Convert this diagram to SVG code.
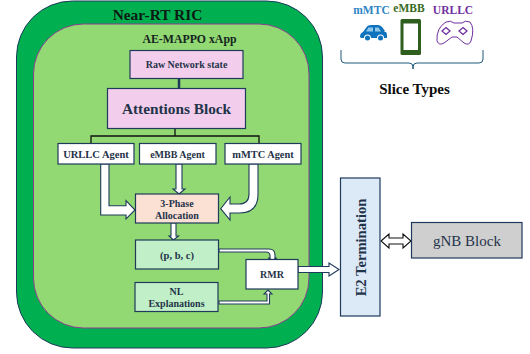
<svg xmlns="http://www.w3.org/2000/svg" width="530" height="354" viewBox="0 0 530 354">
<style>
text{font-family:"Liberation Serif","Times New Roman",serif;font-weight:bold;fill:#1f3349;text-anchor:middle}
.b{stroke:#1f3a5a;stroke-width:1.2}
.w{fill:#fff;stroke:#1f3a5a;stroke-width:1.1;stroke-linejoin:miter}
.k{fill:none;stroke:#111;stroke-width:1.3}
</style>
<rect width="530" height="354" fill="#fff"/>
<g id="ric"><rect x="16.500" y="1" width="306" height="347" rx="56" fill="#00b050" stroke="#1f3a5a" stroke-width="1"/>
<text x="157.500" y="20" font-size="15.400" style="fill:#0c1a14">Near-RT RIC</text></g>
<g id="xapp"><rect x="33.500" y="24" width="275.500" height="304" rx="50" fill="#92d973" stroke="#8a3f8f" stroke-width="1"/>
<text x="189.500" y="43" font-size="11.800" style="fill:#14241c">AE-MAPPO xApp</text></g>
<g id="connectors">
<path d="M179 78V88" stroke="#1f3a5a" stroke-width="2.500" fill="none"/>
<path d="M175 136V129M175 136H91V144M175 136H259V144" class="k"/>
<path class="w" d="M100.700 164H109V205.700H126V200.700L135 210L126 219V215H100.700Z"/>
<path class="w" d="M176 164H182V189H185L179 194L173 189H176Z"/>
<path class="w" d="M249 164H258V194Q258 213 240 213H230V220L220.700 208.700L230 197V204H239Q249 204 249 194Z"/>
<path class="w" d="M171 223H176V236H178.500L173.500 240L169 236H171Z"/>
<path class="w" d="M219 249H269Q275 249 275 255V258H277L272.500 260L268 258H270V256Q270 252 266 252H219Z"/>
<path class="w" d="M219 301H267V294H264L268 290L272 294H269.500V304H219Z"/>
<path class="w" d="M298 266.500H329V263L339 269.500L329 276V272.500H298Z"/>
<path class="w" d="M381 241L389 234V238H403V234L411 241L403 248V244H389V248Z" style="stroke:#111;fill:#fff"/>
</g>
<g id="raw"><rect class="b" x="130" y="50.500" width="113" height="28" fill="#f2cdec"/><text x="186.500" y="68" font-size="10">Raw Network state</text></g>
<g id="attn"><rect class="b" x="107.500" y="88.500" width="138" height="40" fill="#f2cdec"/><text x="176.500" y="114" font-size="15.300">Attentions Block</text></g>
<g id="urllc"><rect class="b" x="58" y="143.500" width="76" height="20.500" fill="#fff"/><text x="96" y="158" font-size="10.500">URLLC Agent</text></g>
<g id="embb"><rect class="b" x="139.500" y="143.500" width="76.500" height="20.500" fill="#fff"/><text x="177.500" y="157.500" font-size="10">eMBB Agent</text></g>
<g id="mmtc"><rect class="b" x="225" y="143.500" width="76" height="20.500" fill="#fff"/><text x="263" y="157.500" font-size="10.400">mMTC Agent</text></g>
<g id="alloc"><rect class="b" x="135.500" y="194" width="83" height="29" fill="#fbe0d4"/><text x="177" y="207" font-size="10">3-Phase</text><text x="177" y="219" font-size="10">Allocation</text></g>
<g id="pbc"><rect class="b" x="135.500" y="240" width="83" height="29" fill="#c1f0c8"/><text x="177" y="259" font-size="10.500">(p, b, c)</text></g>
<g id="nl"><rect class="b" x="135" y="282.500" width="83" height="29" fill="#c1f0c8"/><text x="176.500" y="295" font-size="10">NL</text><text x="176.500" y="307" font-size="10">Explanations</text></g>
<g id="rmr"><rect class="b" x="246" y="259.500" width="52" height="29.500" fill="#fff"/><text x="272" y="278" font-size="10">RMR</text></g>
<g id="e2"><rect class="b" x="340.500" y="178" width="39.500" height="138" fill="#dce9f7"/><text transform="translate(365.500 247.500) rotate(-90)" font-size="14.600">E2 Termination</text></g>
<g id="gnb"><rect class="b" x="411.500" y="222.500" width="110.500" height="35.500" fill="#cfcfcf"/><text x="467" y="246" font-size="15" style="font-weight:normal">gNB Block</text></g>
<g id="slices">
<text x="371.500" y="13.500" font-size="11.500" style="fill:#2e86c6">mMTC</text>
<text x="409" y="12" font-size="11.500" style="fill:#3a6b22">eMBB</text>
<text x="453" y="14" font-size="11.500" style="fill:#7030a0">URLLC</text>
<path fill="#0f72bd" d="M360 37Q360 33 363 32L367 26.500Q368 25 371 25H378Q380 25 382 27L385 31L384 32H386Q387 33 387 36V38H384A3.500 3.500 0 0 0 377 38H371A3.500 3.500 0 0 0 364 38H361Z"/>
<circle cx="367.500" cy="38" r="2.500" fill="#0f72bd"/><circle cx="380.500" cy="38" r="2.500" fill="#0f72bd"/>
<path fill="#8fc8ea" d="M368.500 27.500H373V31.500H366ZM375 27.500H378.500L381 31.500H375Z"/>
<rect x="400.500" y="19" width="20.500" height="36" rx="1.500" fill="#2f5f1e"/><rect x="403.500" y="23.500" width="14.500" height="26.500" fill="#fff"/>
<path fill="none" stroke="#7030a0" stroke-width="1" d="M446 22Q451 20 454 23H462Q465 20 470 22Q475 28 471 41Q469 46 464 43L457 37H452L444 43Q439 46 437 41Q436 28 446 22Z"/>
<g fill="#fff" stroke="#7030a0" stroke-width="1.300"><path d="M446 27.500L450 31L446 34.500L442 31ZM463 27.500L467 31L463 34.500L459 31Z"/></g>
<path d="M341 50V59Q341 63 345 63H409Q413 63 413 67V69M413 69V67Q413 63 417 63H479Q483 63 483 59V50" fill="none" stroke="#1f5a7a" stroke-width="1"/>
<text x="414.500" y="94" font-size="15" style="fill:#0d0d0d">Slice Types</text>
</g>
</svg>
